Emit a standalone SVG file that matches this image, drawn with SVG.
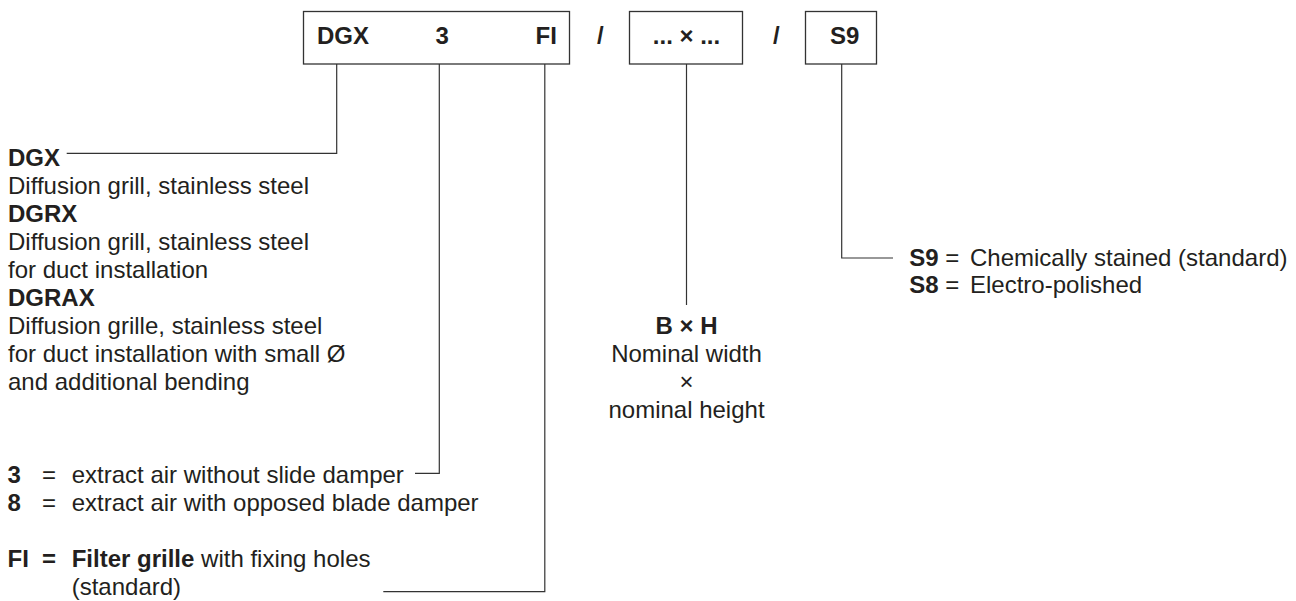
<svg xmlns="http://www.w3.org/2000/svg" width="1296" height="601" viewBox="0 0 1296 601">
<style>
text{font-family:"Liberation Sans",Arial,Helvetica,sans-serif;font-size:24px;fill:#231f20}
.b{font-weight:bold}
.box{fill:#fff;stroke:#333;stroke-width:1.3}
.ln{fill:none;stroke:#333;stroke-width:1.2}
.m{text-anchor:middle}
</style>
<rect width="1296" height="601" fill="#fff"/>
<g id="code-main">
<rect class="box" x="303.5" y="11.5" width="266" height="52.5"/>
<text class="b" x="317" y="44">DGX</text>
<text class="b" x="435.5" y="44">3</text>
<text class="b" x="535.5" y="44">FI</text>
</g>
<g id="sep1"><text class="b" x="597" y="44">/</text></g>
<g id="code-size">
<rect class="box" x="629.5" y="11.5" width="113" height="52.5"/>
<text class="b m" x="686.5" y="44">... × ...</text>
</g>
<g id="sep2"><text class="b" x="773" y="44">/</text></g>
<g id="code-finish">
<rect class="box" x="805.5" y="11.5" width="71" height="52.5"/>
<text class="b" x="830" y="44">S9</text>
</g>
<g id="connectors">
<polyline class="ln" points="336.7,64 336.7,153.3 66.7,153.3"/>
<polyline class="ln" points="439.3,64 439.3,473.3 415,473.3"/>
<polyline class="ln" points="544.8,64 544.8,591.7 383.3,591.7"/>
<line class="ln" x1="686.5" y1="64" x2="686.5" y2="305"/>
<polyline class="ln" points="841.7,64 841.7,258 893,258"/>
</g>
<g id="type-legend">
<text class="b" x="8" y="166">DGX</text>
<text x="8" y="194">Diffusion grill, stainless steel</text>
<text class="b" x="8" y="222">DGRX</text>
<text x="8" y="250">Diffusion grill, stainless steel</text>
<text x="8" y="278">for duct installation</text>
<text class="b" x="8" y="306">DGRAX</text>
<text x="8" y="334">Diffusion grille, stainless steel</text>
<text x="8" y="362">for duct installation with small Ø</text>
<text x="8" y="390">and additional bending</text>
</g>
<g id="damper-legend">
<text class="b" x="7.5" y="483">3</text>
<text x="42" y="483">=</text>
<text x="71.7" y="483">extract air without slide damper</text>
<text class="b" x="7.5" y="511">8</text>
<text x="42" y="511">=</text>
<text x="71.7" y="511">extract air with opposed blade damper</text>
</g>
<g id="fi-legend">
<text class="b" x="7.5" y="567">FI</text>
<text class="b" x="42" y="567">=</text>
<text x="71.7" y="567"><tspan class="b">Filter grille</tspan> with fixing holes</text>
<text x="71.7" y="595">(standard)</text>
</g>
<g id="size-legend">
<text class="b m" x="686.5" y="334">B × H</text>
<text class="m" x="686.5" y="362">Nominal width</text>
<text class="m" x="686.5" y="390">×</text>
<text class="m" x="686.5" y="418">nominal height</text>
</g>
<g id="finish-legend">
<text x="909.3" y="266"><tspan class="b">S9</tspan> = <tspan x="970">Chemically stained (standard)</tspan></text>
<text x="909.3" y="293"><tspan class="b">S8</tspan> = <tspan x="970">Electro-polished</tspan></text>
</g>
</svg>
